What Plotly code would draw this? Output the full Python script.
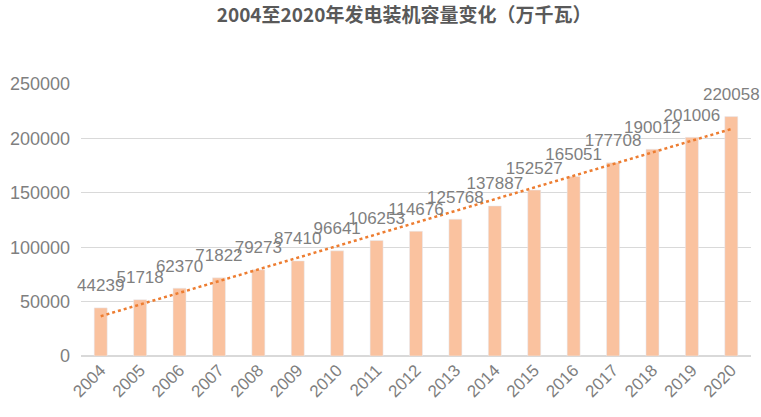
import plotly.graph_objects as go
import numpy as np

# 发电装机容量（万千瓦）
years = [str(y) for y in range(2004, 2021)]
capacity = [44239, 51718, 62370, 71822, 79273, 87410, 96641, 106253, 114676,
            125768, 137887, 152527, 165051, 177708, 190012, 201006, 220058]

# linear trend line, like the spreadsheet trendline
idx = np.arange(len(capacity))
slope, intercept = np.polyfit(idx, capacity, 1)
trend = slope * idx + intercept

fig = go.Figure()

fig.add_trace(go.Bar(
    x=years,
    y=capacity,
    marker=dict(color='#FAC29F'),
    width=0.33,
    showlegend=False
))

fig.add_trace(go.Scatter(
    x=years,
    y=trend,
    mode='lines',
    line=dict(color='#ED7D31', width=2.5, dash='dot'),
    showlegend=False,
    hoverinfo='skip'
))

# data labels sit a little above each bar (invisible marker pushes them up)
fig.add_trace(go.Scatter(
    x=years,
    y=capacity,
    mode='markers+text',
    marker=dict(size=18, opacity=0),
    text=[str(v) for v in capacity],
    textposition='top center',
    textfont=dict(size=17, color='#7F7F7F', family='Liberation Sans'),
    cliponaxis=False,
    showlegend=False,
    hoverinfo='skip'
))

fig.update_layout(
    width=761,
    height=417,
    title=dict(
        text='<b>2004至2020年发电装机容量变化（万千瓦）</b>',
        x=0.531,
        xanchor='center',
        y=0.964,
        yanchor='middle',
        font=dict(size=19, color='#595959', family='Noto Sans CJK SC')
    ),
    margin=dict(l=77, r=10, t=84, b=61),
    plot_bgcolor='white',
    paper_bgcolor='white',
    xaxis=dict(
        type='category',
        range=[-0.5, len(years) - 0.5],
        tickangle=-45,
        tickfont=dict(size=17, color='#7F7F7F', family='Liberation Sans'),
        showgrid=False,
        showline=False,
        ticks=''
    ),
    yaxis=dict(
        range=[0, 250000],
        dtick=50000,
        tickformat='d',
        tickfont=dict(size=18, color='#7F7F7F', family='Liberation Sans'),
        gridcolor='#D9D9D9',
        gridwidth=1,
        zeroline=True,
        zerolinecolor='#D9D9D9',
        zerolinewidth=1.5,
        ticks='',
        ticklabelstandoff=10
    )
)

# drop the page's default body margin so the chart fills the window
fig.write_html("out.html", config={'displayModeBar': False},
               post_script="document.body.style.margin='0px';")
